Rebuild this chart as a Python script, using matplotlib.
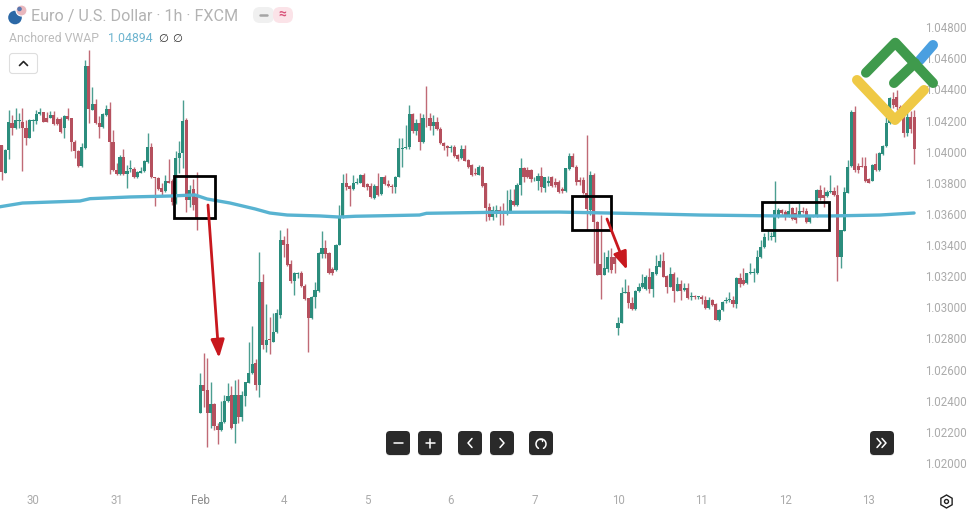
import numpy as np
import matplotlib
matplotlib.use("Agg")
import matplotlib.pyplot as plt
from matplotlib.lines import Line2D
from matplotlib.patches import FancyBboxPatch, FancyArrowPatch, Circle, Rectangle, RegularPolygon
from matplotlib.transforms import Affine2D

plt.rcParams['font.family'] = ['Roboto', 'DejaVu Sans']

# Hourly EUR/USD candles as (open, high, low, close), in pips above 1.00000
candles_jan30 = [
 (404.3,404.5,381.8,387.2),(386.5,402,386,401),(401,426.8,395,419.3),(418.6,423.6,410.7,415),
 (415,427.8,414.6,420.4),(419.5,424.6,415,420.4),(419.3,427.8,387.8,415),(415,420.4,404.3,409),
 (409,421,408.6,420.4),(420,421,413,420.4),(420,426.8,417.8,424),(424,427.8,423.6,425.3),
 (425.3,425.6,418.8,419.3),(421.4,425.7,419,419.3),(421.9,426,421.4,423.6),(423.6,426,417.4,417.8),
 (421,422,417.4,417.8),(421,422,411.8,412.9),(415,423.6,409,423.1),(423.1,427.8,420.4,420.8),
 (421.4,421.9,400.7,406.4),(406.4,407.5,395.7,400.5),(400.5,401,390.4,391),(391,405.4,390.4,403.2),
 (402.2,458.9,401.7,455),(455,465.3,418.6,427.2),(426.8,441.8,426.8,430.4),(430.4,433.6,417.8,418.6),
 (418.6,422.9,408.8,415.6),(415.6,425,415.2,424.2),(423.4,430,423,427.2),(427.2,431.7,385.7,406.4),
 (406.4,414,387.8,388.3),(388.3,392.5,385,385.7),(385.7,397.9,385,396.8),(396.4,401.5,385,385.7),
 (385.9,391.5,376.5,387.8),(388.7,394.7,387,389.6),(388.7,390.4,383.3,384),(383.5,387.8,382.9,387.2),
 (386.5,390,386,387.8),(387.8,394.7,387,394),(393.6,411.8,393,402.8),(402.8,405.8,382.9,383.5),
 (383.5,384,365.4,382.9),(382.9,384,375.4,375.8),(376.5,379.7,371.5,374.3),(375,385,374.3,381.4),
 (381.4,395,379.7,380.1),(381.4,382.2,365.8,367.9),(366.8,400.4,366.4,395.7),(395.7,407,386,398.9),
 (398.9,433.2,389.3,419.9),(420.3,421.4,361,369),(369,378.6,364.7,375.4),(375.8,382.2,362.6,365.8),
 (371.1,387,349.7,357.2),
]
candles_feb03 = [
 (232.3,257.6,232,250.1),(250.1,270.9,236.2,246.5),(246.9,267.2,210.5,231.9),(231.9,251.8,222.3,237.7),
 (237.7,238.3,221.2,224),(224,225.5,212.2,221.2),(221.2,239.8,220.8,226.6),(226.1,243.7,225.5,240),
 (240,251.2,239.4,243),(243.7,249.5,222,222.3),(224.9,253.3,213.1,243.7),(243.7,254,226,229.8),
 (229.8,246,227,243.7),(243,252.3,236.6,252.3),(251.6,278,251.2,257.6),(257.6,288,257,263.6),
 (264,267,247,250.1),(250.1,335.3,242.6,316.5),(316.5,321.4,273,275.8),(275.8,302,271.5,279),
 (279.5,294,270,279),(278,296.6,278,284.4),(284.4,298.7,283.3,296.1),(295,349.6,293,343.2),
 (343.2,345.8,332.5,340),(341,350.7,326.5,327.2),(327.8,330.4,315.4,316.9),(316.9,322.9,307.9,321.8),
 (321.4,323,319,322.2),(321.8,323.5,313.2,313.7),(313.9,315,305,305.3),(305.8,306,271.5,293),
 (293,307.3,292.3,306.4),(306.4,316.5,299.4,311.1),(310.7,335.7,310,334.7),(334.2,349.2,332,337.9),
 (337.9,343.2,332,334.2),(334.7,335.7,321.4,322.2),(324.4,326,320.7,321.8),(324,340.4,323.5,340),
]
candles_feb05 = [
 (340,365.7,340,358.2),(358.2,385.6,357.2,379.6),(379.6,386.5,375.4,377),(378,378.6,365.3,375.8),
 (375.8,385,375.4,380),(380,383,379,380.7),(380,385.6,379.6,385),(385,386,377,377.5),
 (379.2,379.6,375.4,377),(378,379.6,370,370.7),(370,379,369.5,378),(378,386,371.5,372.2),
 (372.8,384,372.2,383.5),(383.5,385,378.6,379.2),(379.2,381.8,377.5,378),(378,379.2,373.2,377),
 (377,384.3,373.6,384),(383.9,408.5,383.5,402.1),(401.5,408.5,390,402.4),(402.5,417,401.5,403.2),
 (402.8,430,401.5,424.2),(424.2,425,411.7,413.5),(413.5,420.7,410.7,418.2),(418.2,424.6,401,406.4),
 (406,424.2,405.7,421.4),(421.8,442.1,416,421.4),(421.4,424.6,414,416.4),(416.4,423.5,410.7,419.2),
 (419.2,422.4,413.9,414.3),(414.3,416,404.9,405.7),(405.7,406.4,401,403.6),(403.6,404.2,397.2,402.1),
 (402.1,404,400,402.7),(402.7,404.2,396.8,397.2),(397.8,398.5,394.2,395),(395.7,404,395,401.5),
 (401.5,404.2,394,394.2),(394.6,395,389.3,390.3),(391.4,392,384.3,385),(386,389.3,385,385.6),
 (385,391.4,384.8,389.9),(389.9,390.8,377.5,378.1),(379.6,379.6,355.7,363.6),
]
candles_feb06 = [
 (364.7,367.2,356.1,358.2),(358.2,365,356,362.5),(361.8,365.7,358.2,362.2),(362.5,365,352.9,361.4),
 (361.4,366.8,352.9,360),(360,375.4,359.5,361.4),(360.8,375.8,360.4,369),(368.6,375.8,365,365.7),
 (365.7,380,365.3,378.6),(378.6,395.7,372.2,389.3),(389.3,390.3,380.7,384),(388.2,390.3,382.9,383.5),
 (388.2,388.6,380.7,382.2),(382.2,384,381,382.6),(381.4,386,375.4,384.4),(384.4,390.3,374.3,377.1),
 (376.4,384,374.3,383.5),(380,384.3,378,381),(383.5,384.3,377.5,378.1),(380.7,382.8,377.5,378.6),
 (380.7,381.8,373.6,374.3),(375.8,377.5,373.6,375),(375,389.5,374.3,389.3),(388.9,398.9,388.2,397.2),
 (397.2,398.9,389.9,390.3),(390.3,391.4,378.6,380.7),(381.8,384,378.6,380.7),(381.8,384,372.8,373.6),
 (373.6,410.7,349.7,363),(362.5,387.8,359,385),(385,386,328.3,355),(355,355.2,320.8,320.8),
 (327.6,359.3,305.2,320.8),(320.8,335.8,320.5,325),(324.4,336.8,323,332.1),(332.1,337.9,322.3,324),
 (332.1,332.2,321.9,327.9),
]
candles_feb10 = [
 (286.6,294,282.3,290.2),(290.2,313,289.8,309),(309.5,318,309,309.9),(309.7,314.4,299.4,302.6),
 (302.6,306.9,298.4,299),(299,311.2,298.4,310.8),(310.8,315.5,310.1,312.9),(312.9,321.5,312.3,315.5),
 (312,321,311,319.3),(319.3,325.1,309.5,311.8),(311.8,323,306.9,322.5),(321.3,333.7,320.8,326.6),
 (326.2,334.3,325.8,330),(330,335.8,319.3,319.8),(320.2,320.8,309,313.3),(313.3,326.2,312.9,321.5),
 (321.5,323,303.7,310.8),(310.8,319.8,310.3,315),(315,317.6,304.8,310.8),(311.2,315.5,310.8,312.3),
 (312.3,315.5,305.2,305.9),(306.6,310,304.8,307),(306.9,308,305.2,306.5),(306.5,307.5,305.2,306.6),
 (306.9,308,302.2,305.2),(304.8,307.3,298.8,299.4),(299.4,306.9,298.8,304.8),(304.8,305.2,300.8,301.6),
 (302.2,302.6,291.9,291.9),(291.9,299,291.5,298.4),(298,304.3,297.5,303.7),(304,306.5,303,304.8),
 (304.8,310,303.7,305),(304.8,307.3,300.5,302.2),(302.2,319.8,299.4,318.7),(318.7,321.9,312.9,315),
 (317.6,325.1,314.4,315),(315.5,322.3,315,321.9),(321.9,328.8,321.5,322.3),(322,325,316.5,322.3),
 (322,336.9,321.5,332.2),
]
candles_feb12 = [
 (332.1,343.3,331.5,339),(339,348,338,345),(345,349.7,343.5,345.4),(345.2,348.6,343,345.4),
 (345,381.3,342.2,362.5),(357.8,364,357.3,362.5),(362.5,363,359.5,360.4),(361,362.5,356,358.2),
 (358.2,366.8,357.8,362),(363.6,364.6,356,356.5),(360.4,364.2,353.9,356.1),(359.3,367.2,358.2,362),
 (362,364.6,360.4,361.5),(362,363.6,354.4,355),(355,359.3,354.4,358.2),(358.2,359.5,358,358.8),
 (358.2,375.8,357.8,375.4),(375.4,378.6,369,370),(372.2,377.5,364.7,370),(371.5,375.4,371,374.3),
 (374.3,385,373.2,374.5),(374.9,377.5,371.5,372.2),(372.2,378.6,317.2,332.6),(332.6,349.7,325,349.7),
 (349.2,377.5,349,374.3),(373.6,394.6,373.2,390.3),(390.8,426.8,390.3,425.7),(425.7,429.3,387.1,388.2),
 (391,393,386,388.2),(391,396.3,390,390.3),(390.8,396.8,380.7,381.4),(382.2,383,379.7,380.1),
 (381.4,391.8,380.9,391.4),(391.8,399,387.8,388.2),(388.2,400,387.8,398.9),(398.5,404.3,397.8,403.6),
 (403.6,422.4,403.2,418.6),(418.6,435.3,418,434.2),(434,438.5,428,430),(435.3,439.6,427,428.9),
 (428.9,430,423,424.5),(422.5,423.5,409.6,411.8),(412.2,426,410.3,422.5),(422.5,426,412,414.3),
 (422.5,426.8,392.1,401.5),
]

# Anchored VWAP (bar index, pips above 1.00000)
vwap_bar = [-0.5,6,22.5,25.4,36.9,48.4,55.5,59,65.6,72.8,77,82,91.4,97,101.5,111,120,122,139.5,160,183,200.5,223.5,238,252.2,262]
vwap_pip = [364.6,367,368.3,369.8,370.9,371.5,372.2,369.6,367,363.2,360.6,359.3,358.7,358,358.5,358.9,359.3,360.4,361,361.2,360.2,359.3,358.7,358.7,359.3,360.6]

price_ticks = [1.02,1.022,1.024,1.026,1.028,1.03,1.032,1.034,1.036,1.038,1.04,1.042,1.044,1.046,1.048]
day_ticks = [9,33,57,81,105,129,153,177,201,225,249]
day_labels = ['30','31','Feb','4','5','6','7','10','11','12','13']

TITLE = 'Euro / U.S. Dollar \u00b7 1h \u00b7 FXCM'

ohlc = np.array(candles_jan30+candles_feb03+candles_feb05+candles_feb06+candles_feb10+candles_feb12)
o,h,l,c = [1+ohlc[:,i]/10000 for i in range(4)]
bars = np.arange(len(o))
up = c >= o
GREEN, RED = '#2b8d7d', '#b5505e'
colors = np.where(up, GREEN, RED)

fig = plt.figure(figsize=(9.77,5.15), dpi=100, facecolor='white')
W,H = 977,515
ax = fig.add_axes([0,1-485/H,920/W,485/H])
ax.set_xlim(-0.459,263.7)
ax.set_ylim(1+185.9/10000,1+497.4/10000)
for s in ax.spines.values():
    s.set_visible(False)
ax.vlines(bars,l,h,colors=colors,linewidth=1.0,alpha=0.85,zorder=2)
ax.bar(bars,np.maximum(np.abs(c-o),0.00005),bottom=np.minimum(o,c),width=0.9,color=colors,linewidth=0,zorder=3)
ax.plot(vwap_bar,1+np.array(vwap_pip)/10000,color='#58b3d1',lw=2.4,zorder=4,solid_capstyle='round')

ax.yaxis.tick_right()
ax.set_yticks(price_ticks)
ax.set_yticklabels([f'{p:.5f}' for p in price_ticks])
ax.set_xticks(day_ticks)
ax.set_xticklabels(day_labels)
ax.tick_params(axis='y',length=0,pad=3.6,labelsize=8.3,labelcolor='#ababab')
ax.tick_params(axis='x',length=0,pad=6.5,labelsize=8.3,labelcolor='#ababab')
ax.get_xticklabels()[2].set_color('#8f8f8f')

# overlays placed in image pixels
px = Affine2D().scale(1,-1).translate(0,H)
def line(xs,ys,color,lw,cap='round',z=7):
    a = Line2D(xs,ys,color=color,lw=lw,transform=px,solid_capstyle=cap,solid_joinstyle='round',zorder=z)
    fig.add_artist(a)
def text(x,y,s,color,size,ha='left',weight='normal',**kw):
    fig.text(x,y,s,color=color,fontsize=size,ha=ha,va='center',transform=px,weight=weight,zorder=8,**kw)
def box(x,y,w,ht,fc,ec='none',r=4,lw=0,z=6,alpha=1):
    fig.add_artist(FancyBboxPatch((x,y),w,ht,boxstyle=f'round,pad=0,rounding_size={r}',fc=fc,ec=ec,lw=lw,transform=px,zorder=z,alpha=alpha))

# boxes drawn on the chart
for x0,y0,x1,y1 in [(174,176,215,218),(572,196,611,230),(762,202,829,230)]:
    fig.add_artist(Rectangle((x0,y0),x1-x0,y1-y0,fc='none',ec='black',lw=2.0,transform=px,zorder=6))
# arrows
for a,b in [((208,205),(219,358)),((607,219),(627,270))]:
    fig.add_artist(FancyArrowPatch(a,b,transform=px,arrowstyle='-|>,head_length=1.2,head_width=0.45',mutation_scale=9,
                                   color='#c8181e',lw=2.0,shrinkA=0,shrinkB=0,zorder=6))
# logo
LW = 7.2
line([920,933],[60,45],'#4a9fe0',LW,z=5)
line([866,895.3,933],[72.7,42.7,83],'#3f9a4c',LW,z=6)
line([894,915],[83,63],'#3f9a4c',LW,z=6)
line([857,895,924],[80,120,90],'#efc945',LW,z=7)

# header
fig.add_artist(Circle((15,17.5),6.8,fc='#2b68a6',ec='none',transform=px,zorder=7))
fig.add_artist(Circle((21.5,10.5),5.5,fc='#e9b7bd',ec='white',lw=0.8,transform=px,zorder=7))
fig.add_artist(Circle((19.5,9),2.3,fc='#5a78b0',ec='none',transform=px,zorder=8))
text(31,16,TITLE,'#b3b3b3',11.6)
box(253,7,21,16,'#f0f0f0',r=7)
box(273,7,20,16,'#fbe3e8',r=7)
line([260,267],[15,15],'#a5a5a5',1.8)
text(282.5,15,'\u2248','#d9537a',10,ha='center',weight='bold')
text(9,39,'Anchored VWAP','#bcbcbc',8.8)
text(108,39,'1.04894','#6db4cf',8.8)
text(158.5,39,'\u2205','#333333',8.2)
text(172.5,39,'\u2205','#333333',8.2)
box(9.5,53.5,28,20,'white',ec='#dedede',lw=0.8,r=3)
line([19.5,23.5,27.5],[65.5,61.5,65.5],'#222222',1.2)

# navigation buttons
DARK = '#2a2a2a'
for cx in [398,430,470,502,541,882]:
    box(cx-12,432,24,24,'#cfcfcf',r=4,z=5,alpha=0.5)
    box(cx-12,431,24,24,DARK,r=4)
line([393.5,402.5],[443,443],'white',1.1)
line([425.5,434.5],[443,443],'white',1.1)
line([430,430],[438.5,447.5],'white',1.1)
line([472,468,472],[438.5,443,447.5],'white',1.1)
line([500,504,500],[438.5,443,447.5],'white',1.1)
t = np.radians(np.arange(-60,250,10))
line(541+5*np.cos(t),444-5*np.sin(t),'white',1.1)
line([538.5,541.5,541.5],[438.5,438.5,441],'white',1.0)
line([877,881,877],[438.5,443,447.5],'white',1.1)
line([882,886,882],[438.5,443,447.5],'white',1.1)
# settings icon
fig.add_artist(RegularPolygon((946.5,501.5),6,radius=6.5,orientation=0,fc='none',ec='#222222',lw=1.0,transform=px,zorder=7))
fig.add_artist(Circle((946.5,501.5),2.0,fc='none',ec='#222222',lw=1.0,transform=px,zorder=7))

fig.savefig('out.png',dpi=100,facecolor='white')
